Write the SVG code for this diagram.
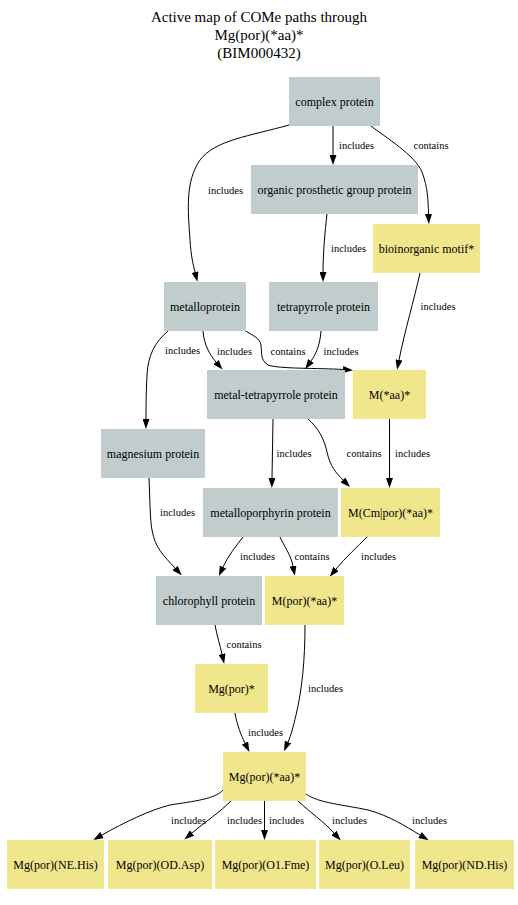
<svg xmlns="http://www.w3.org/2000/svg" width="518" height="905" viewBox="0 0 518 905">
  <style>
    .bg { fill: #ffffff; }
    .title { font-family: "Liberation Serif", "Times New Roman", serif; font-size: 15px; fill: #000; text-anchor: middle; }
    .cls rect { fill: #c1cdcd; stroke: none; }
    .mot rect { fill: #f0e68c; stroke: none; }
    .node text { font-family: "Liberation Serif", "Times New Roman", serif; font-size: 12px; fill: #000; text-anchor: middle; }
    .edges path { fill: none; stroke: #000; stroke-width: 1; marker-end: url(#arrow); }
    .edges text { font-family: "Liberation Serif", "Times New Roman", serif; font-size: 10.5px; fill: #000; text-anchor: middle; }
  </style>
  <defs>
    <marker id="arrow" viewBox="0 0 10 7" refX="0" refY="3.5" markerWidth="10" markerHeight="7" markerUnits="userSpaceOnUse" orient="auto">
      <path d="M0,0 L10,3.5 L0,7 Z" fill="#000"/>
    </marker>
  </defs>
  <rect class="bg" x="0" y="0" width="518" height="905"/>

  <!-- title -->
  <text class="title" x="259" y="22">Active map of COMe paths through</text>
  <text class="title" x="259" y="40">Mg(por)(*aa)*</text>
  <text class="title" x="259" y="58">(BIM000432)</text>

  <!-- connectors -->
  <g id="edges" class="edges">
    <path d="M289,125 C250,136 215,140 200,160 C185,182 188,210 190,240 C191,256 193,264 195,272"/>
    <text x="225.5" y="193.5">includes</text>
    <path d="M333,126 L333,155"/>
    <text x="356.5" y="149">includes</text>
    <path d="M371,126 C385,137 415,155 422,172 C428,188 428,200 428.5,214"/>
    <text x="431" y="149">contains</text>
    <path d="M327,214 C325,230 323,255 323,272"/>
    <text x="348.5" y="251.5">includes</text>
    <path d="M420,273 C414,300 405,330 399,360"/>
    <text x="438" y="309.5">includes</text>
    <path d="M168,331 C155,342 148,355 147,375 C146,395 146,410 146,419"/>
    <text x="182.5" y="354">includes</text>
    <path d="M203,331 C204,345 210,355 216,362"/>
    <text x="234.5" y="354.5">includes</text>
    <path d="M244,330 C252,335 260,338 261,345 C262,352 260,360 268,365 C278,369 320,368 343,369.5"/>
    <text x="288" y="354.5">contains</text>
    <path d="M321,331 C320,345 316,354 311,361"/>
    <text x="341" y="354.5">includes</text>
    <path d="M273,419 L272,478"/>
    <text x="294" y="456.5">includes</text>
    <path d="M308,419 C318,428 324,438 327,452 C330,466 336,473 343,480"/>
    <text x="364" y="456.5">contains</text>
    <path d="M389.5,419 L389.5,478"/>
    <text x="412.5" y="456.5">includes</text>
    <path d="M149,478 C150,500 150,520 152,530 C155,548 164,556 175,568"/>
    <text x="177.5" y="515.5">includes</text>
    <path d="M243,537 C236,546 228,556 223,567"/>
    <text x="257.5" y="560">includes</text>
    <path d="M280,537 C284,546 291,555 293,566"/>
    <text x="312" y="560">contains</text>
    <path d="M367,537 C358,546 345,558 336,569"/>
    <text x="378.5" y="560">includes</text>
    <path d="M215,625 C217,636 220,645 222,654"/>
    <text x="244" y="647.5">contains</text>
    <path d="M305,625 C305,660 302,690 296,715 C293,728 291,735 288,742"/>
    <text x="325.5" y="691.5">includes</text>
    <path d="M235,713 C237,725 241,735 245,743"/>
    <text x="265.5" y="735.5">includes</text>
    <path d="M223,790 C215,799 195,801 170,805 C150,810 125,822 102,835"/>
    <text x="188.5" y="823.5">includes</text>
    <path d="M231,801 C220,812 205,822 192,833"/>
    <text x="244.5" y="823.5">includes</text>
    <path d="M264.5,801 L264.5,830"/>
    <text x="286.5" y="823.5">includes</text>
    <path d="M298,801 C310,812 324,822 334,833"/>
    <text x="349.5" y="823.5">includes</text>
    <path d="M306,794 C318,803 345,805 368,810 C390,816 405,826 420,835"/>
    <text x="429.5" y="823.5">includes</text>
  </g>

  <!-- nodes -->
  <g id="complex_protein" class="node cls"><rect x="289" y="77" width="91" height="49"/><text x="334.5" y="105.5">complex protein</text></g>
  <g id="organic_prosthetic_group_protein" class="node cls"><rect x="251" y="165" width="167" height="49"/><text x="334.5" y="193.5">organic prosthetic group protein</text></g>
  <g id="bioinorganic_motif" class="node mot"><rect x="373" y="224" width="107" height="49"/><text x="426.5" y="252.5">bioinorganic motif*</text></g>
  <g id="metalloprotein" class="node cls"><rect x="164" y="282" width="82" height="49"/><text x="205" y="310.5">metalloprotein</text></g>
  <g id="tetrapyrrole_protein" class="node cls"><rect x="269" y="282" width="109" height="49"/><text x="323.5" y="310.5">tetrapyrrole protein</text></g>
  <g id="metal_tetrapyrrole_protein" class="node cls"><rect x="207" y="370" width="138" height="49"/><text x="276" y="398.5">metal-tetrapyrrole protein</text></g>
  <g id="M_aa" class="node mot"><rect x="353" y="370" width="73" height="49"/><text x="389.5" y="398.5">M(*aa)*</text></g>
  <g id="magnesium_protein" class="node cls"><rect x="101" y="429" width="104" height="49"/><text x="153" y="457.5">magnesium protein</text></g>
  <g id="metalloporphyrin_protein" class="node cls"><rect x="203" y="488" width="135" height="49"/><text x="270.5" y="516.5">metalloporphyrin protein</text></g>
  <g id="M_Cm_por_aa" class="node mot"><rect x="341" y="488" width="99" height="49"/><text x="390.5" y="516.5">M(Cm|por)(*aa)*</text></g>
  <g id="chlorophyll_protein" class="node cls"><rect x="156" y="576" width="106" height="49"/><text x="209" y="604.5">chlorophyll protein</text></g>
  <g id="M_por_aa" class="node mot"><rect x="265" y="576" width="79" height="49"/><text x="304.5" y="604.5">M(por)(*aa)*</text></g>
  <g id="Mg_por" class="node mot"><rect x="195" y="664" width="73" height="49"/><text x="231.5" y="692.5">Mg(por)*</text></g>
  <g id="Mg_por_aa" class="node mot"><rect x="223" y="752" width="83" height="49"/><text x="264.5" y="780.5">Mg(por)(*aa)*</text></g>
  <g id="Mg_por_NE_His" class="node mot"><rect x="7" y="840" width="97" height="49"/><text x="55.5" y="868.5">Mg(por)(NE.His)</text></g>
  <g id="Mg_por_OD_Asp" class="node mot"><rect x="108" y="840" width="104" height="49"/><text x="160" y="868.5">Mg(por)(OD.Asp)</text></g>
  <g id="Mg_por_O1_Fme" class="node mot"><rect x="215" y="840" width="101" height="49"/><text x="265.5" y="868.5">Mg(por)(O1.Fme)</text></g>
  <g id="Mg_por_O_Leu" class="node mot"><rect x="319" y="840" width="91" height="49"/><text x="364.5" y="868.5">Mg(por)(O.Leu)</text></g>
  <g id="Mg_por_ND_His" class="node mot"><rect x="415" y="840" width="99" height="49"/><text x="464.5" y="868.5">Mg(por)(ND.His)</text></g>
</svg>
